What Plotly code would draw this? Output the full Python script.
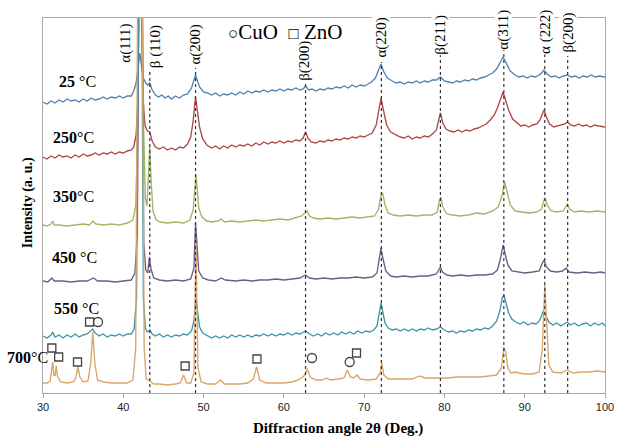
import plotly.graph_objects as go

# ---------------- data (2theta in degrees, intensity in a.u. with vertical offsets) ----------------
T25 = [(30.0,291),(30.5,289),(31.0,292),(31.5,290),(32.0,293),(32.5,291),(33.0,294),(33.5,292),(34.0,293),(34.5,291),
       (35.0,294),(35.5,292),(36.0,295),(36.5,293),(37.0,294),(37.5,296),(38.0,294),(38.5,296),(39.0,295),(39.5,297),
       (40.0,295),(40.5,297),(41.0,297),(41.3,302),(41.6,310),(41.85,325),(42.05,340),(42.25,328),(42.5,315),(42.8,310),
       (43.05,308),(43.3,310),(43.6,303),(44.0,298),(44.4,296),(44.8,298),(45.2,295),(45.6,297),(46.0,294),(46.5,297),
       (47.0,295),(47.5,298),(48.0,299),(48.5,305),(48.8,314),(49.0,318),(49.2,313),(49.5,306),(50.0,301),(50.5,300),
       (51.0,298),(51.5,300),(52.0,297),(52.5,299),(53.0,298),(53.5,300),(54.0,298),(54.5,301),(55.0,299),(55.5,302),
       (56.0,300),(56.5,302),(57.0,301),(57.5,303),(58.0,301),(58.5,303),(59.0,302),(59.5,304),(60.0,302),(60.5,304),
       (61.0,303),(61.5,305),(62.0,303),(62.4,304),(62.7,307),(63.1,303),(63.5,304),(64.0,302),(64.5,304),(65.0,303),
       (65.5,305),(66.0,304),(66.5,306),(67.0,305),(67.5,307),(68.0,305),(68.5,308),(69.0,306),(69.5,308),(70.0,307),
       (70.5,309),(70.9,311),(71.4,315),(71.8,322),(72.1,329),(72.4,322),(72.9,315),(73.5,312),(74.0,310),(74.5,311),
       (75.0,309),(75.5,311),(76.0,310),(76.5,312),(77.0,310),(77.5,312),(78.0,311),(78.5,313),(79.0,313),(79.5,316),
       (80.0,312),(80.5,311),(81.0,310),(81.5,312),(82.0,311),(82.5,313),(83.0,312),(83.5,314),(84.0,313),(84.5,315),
       (85.0,316),(85.5,318),(86.0,320),(86.5,324),(86.9,330),(87.3,336),(87.7,330),(88.2,322),(88.8,318),(89.3,316),
       (89.8,317),(90.3,315),(90.8,317),(91.3,316),(91.8,318),(92.1,320),(92.4,323),(92.8,319),(93.3,316),(93.8,317),
       (94.3,315),(94.8,317),(95.3,318),(95.8,316),(96.3,317),(96.8,315),(97.3,317),(97.8,316),(98.3,318),(98.8,316),
       (99.3,317),(100.0,316)]

T250 = [(30.0,236),(30.5,234),(31.0,237),(31.5,235),(32.0,238),(32.5,236),(33.0,237),(33.5,235),(34.0,238),(34.5,236),
        (35.0,239),(35.5,237),(36.0,238),(36.5,240),(37.0,238),(37.5,240),(38.0,239),(38.5,241),(39.0,239),(39.5,241),
        (40.0,240),(40.5,242),(41.0,243),(41.3,246),(41.6,258),(41.8,290),(42.0,420),(42.25,420),(42.45,295),(42.7,268),
        (43.0,262),(43.3,261),(43.6,252),(44.0,246),(44.5,244),(45.0,246),(45.5,243),(46.0,245),(46.5,243),(47.0,246),
        (47.5,245),(48.0,249),(48.4,256),(48.7,272),(49.0,296),(49.2,285),(49.5,266),(49.9,254),(50.4,248),(51.0,245),
        (51.5,247),(52.0,244),(52.5,247),(53.0,245),(53.5,248),(54.0,246),(54.5,248),(55.0,247),(55.5,249),(56.0,247),
        (56.5,250),(57.0,248),(57.5,251),(58.0,249),(58.5,251),(59.0,250),(59.5,252),(60.0,250),(60.5,252),(61.0,251),
        (61.5,253),(62.0,252),(62.4,255),(62.7,261),(63.0,255),(63.4,251),(64.0,250),(64.5,252),(65.0,251),(65.5,253),
        (66.0,252),(66.5,254),(67.0,253),(67.5,255),(68.0,254),(68.5,256),(69.0,255),(69.5,257),(70.0,256),(70.5,258),
        (71.0,260),(71.5,268),(71.9,285),(72.1,295),(72.4,283),(72.8,268),(73.3,261),(74.0,258),(74.5,256),(75.0,255),
        (75.5,257),(76.0,254),(76.5,256),(77.0,255),(77.5,257),(78.0,256),(78.5,259),(79.0,263),(79.3,272),(79.5,280),
        (79.8,270),(80.2,264),(80.7,262),(81.2,261),(81.7,263),(82.2,261),(82.7,263),(83.2,262),(83.7,264),(84.2,265),
        (84.7,267),(85.2,269),(85.7,273),(86.2,278),(86.6,285),(87.0,295),(87.3,301),(87.6,293),(88.0,283),(88.5,274),
        (89.0,270),(89.5,267),(90.0,268),(90.5,266),(91.0,268),(91.5,269),(91.9,273),(92.2,279),(92.4,283),(92.7,276),
        (93.1,269),(93.6,266),(94.1,267),(94.6,268),(95.0,269),(95.3,271),(95.7,268),(96.2,267),(96.7,269),(97.2,267),
        (97.7,268),(98.2,266),(98.7,268),(99.2,267),(100.0,266)]

T350 = [(30.0,168),(30.5,167),(31.0,169),(31.2,172),(31.4,168),(32.0,168),(33.0,167),(34.0,168),(35.0,169),(35.8,168),
        (36.2,172),(36.6,169),(37.5,168),(38.5,169),(39.5,168),(40.5,170),(41.2,173),(41.55,188),(41.8,260),(41.95,420),
        (42.35,420),(42.55,260),(42.75,195),(42.95,187),(43.15,215),(43.3,246),(43.45,215),(43.7,182),(44.1,173),(44.6,171),
        (45.5,170),(46.5,171),(47.5,170),(48.3,173),(48.7,183),(48.9,205),(49.05,218),(49.2,205),(49.4,185),(49.8,176),
        (50.4,172),(51.0,171),(51.8,172),(52.2,174),(52.6,171),(53.5,172),(54.5,171),(55.5,172),(56.5,173),(57.5,172),
        (58.5,173),(59.5,174),(60.5,173),(61.5,175),(62.2,177),(62.6,180),(62.9,182),(63.2,177),(63.7,175),(64.5,174),
        (65.5,175),(66.5,174),(67.5,175),(68.5,176),(69.5,175),(70.5,176),(71.3,177),(71.8,184),(72.1,198),(72.3,200),
        (72.6,188),(73.0,180),(73.6,178),(74.5,177),(75.5,178),(76.5,177),(77.5,178),(78.5,178),(79.1,181),(79.4,193),
        (79.55,196),(79.8,186),(80.3,179),(81.0,178),(82.0,177),(83.0,178),(84.0,180),(85.0,179),(86.0,182),(86.7,186),
        (87.2,198),(87.5,211),(87.8,200),(88.2,188),(88.8,182),(89.5,181),(90.5,180),(91.5,181),(92.1,184),(92.4,193),
        (92.55,195),(92.8,188),(93.3,182),(94.0,181),(94.8,182),(95.1,186),(95.3,189),(95.6,184),(96.2,181),(97.0,182),
        (98.0,181),(99.0,182),(100.0,181)]

T450 = [(30.0,112),(30.6,111),(31.1,115),(31.4,112),(32.5,112),(33.5,111),(34.5,112),(35.5,112),(36.3,115),(36.8,112),
        (38.0,112),(39.0,111),(40.0,112),(41.0,113),(41.45,120),(41.75,160),(41.95,420),(42.35,420),(42.55,150),(42.8,123),
        (43.05,120),(43.25,136),(43.45,124),(43.8,115),(44.5,113),(45.5,112),(46.5,113),(47.5,112),(48.4,114),(48.8,125),
        (49.0,170),(49.15,150),(49.4,122),(49.9,115),(50.6,113),(51.5,112),(52.2,115),(52.7,113),(54.0,112),(55.0,113),
        (56.0,112),(57.0,113),(58.0,113),(59.0,114),(60.0,113),(61.0,114),(62.0,115),(62.7,118),(63.2,115),(64.0,114),
        (65.0,115),(66.0,114),(67.0,115),(68.0,115),(69.0,116),(70.0,115),(71.0,116),(71.6,120),(71.95,140),(72.1,145),
        (72.3,136),(72.7,122),(73.3,117),(74.0,116),(75.0,117),(76.0,116),(77.0,117),(78.0,117),(79.0,119),(79.35,124),
        (79.5,126),(79.75,121),(80.3,118),(81.0,117),(82.0,118),(83.0,117),(84.0,118),(85.0,118),(86.0,119),(86.6,123),
        (87.0,135),(87.3,148),(87.55,140),(87.9,128),(88.4,122),(89.0,121),(90.0,120),(91.0,121),(91.8,122),(92.2,130),
        (92.4,133),(92.7,126),(93.2,122),(94.0,121),(94.7,122),(95.0,124),(95.15,125),(95.5,121),(96.5,120),(97.5,121),
        (98.5,120),(99.5,121),(100.0,120)]

T550 = [(30.0,57),(30.5,55),(31.0,58),(31.2,61),(31.5,56),(32.0,58),(32.5,55),(33.0,58),(33.5,56),(34.0,59),
        (34.5,56),(35.0,58),(35.5,59),(35.9,62),(36.2,64),(36.5,60),(37.0,57),(37.5,59),(38.0,56),(38.5,58),
        (39.0,57),(39.5,59),(40.0,57),(40.5,59),(41.0,59),(41.35,64),(41.65,95),(41.9,420),(42.3,420),(42.5,95),
        (42.75,65),(43.0,61),(43.3,63),(43.6,59),(44.0,57),(44.5,59),(45.0,56),(45.5,58),(46.0,56),(46.5,58),
        (47.0,57),(47.5,59),(48.0,58),(48.5,62),(48.8,72),(49.05,95),(49.25,80),(49.5,66),(49.9,60),(50.5,57),
        (51.0,55),(51.5,57),(52.0,55),(52.5,57),(53.0,55),(53.5,58),(54.0,56),(54.5,58),(55.0,56),(55.5,58),
        (56.0,56),(56.5,58),(57.0,57),(57.5,59),(58.0,57),(58.5,59),(59.0,57),(59.5,59),(60.0,58),(60.5,60),
        (61.0,58),(61.5,60),(62.0,59),(62.7,62),(63.2,59),(63.7,57),(64.2,59),(64.7,57),(65.2,60),(65.7,58),
        (66.2,60),(66.7,58),(67.2,61),(67.7,59),(68.2,61),(68.7,59),(69.2,62),(69.7,60),(70.2,62),(70.7,61),
        (71.2,63),(71.6,67),(71.9,80),(72.1,90),(72.3,82),(72.6,70),(73.0,65),(73.5,63),(74.0,64),(74.5,62),
        (75.0,64),(75.5,62),(76.0,64),(76.5,62),(77.0,64),(77.5,63),(78.0,65),(78.5,63),(79.0,64),(79.5,66),
        (80.0,63),(80.5,61),(81.0,62),(81.5,60),(82.0,62),(82.5,61),(83.0,63),(83.5,62),(84.0,64),(84.5,63),
        (85.0,65),(85.5,64),(86.0,67),(86.5,72),(86.9,82),(87.2,95),(87.4,98),(87.7,90),(88.0,80),(88.4,74),
        (88.9,71),(89.4,69),(89.9,71),(90.4,68),(90.9,70),(91.4,69),(91.8,72),(92.1,77),(92.3,82),(92.6,78),
        (93.0,71),(93.5,68),(94.0,70),(94.5,67),(95.0,69),(95.3,71),(95.7,68),(96.2,70),(96.7,67),(97.2,69),
        (97.7,70),(98.2,67),(98.7,70),(99.2,68),(99.7,70),(100.0,67)]

T700 = [(30.0,10),(30.5,10),(30.9,12),(31.1,28),(31.2,31),(31.35,18),(31.5,17),(31.65,27),(31.8,17),(32.2,11),
        (33.0,10),(33.8,11),(34.1,16),(34.35,26),(34.6,16),(35.0,11),(35.6,12),(35.95,30),(36.2,61),(36.45,30),
        (36.8,13),(37.5,11),(38.5,10),(39.5,10),(40.5,10),(41.2,13),(41.55,45),(41.8,420),(42.35,420),(42.6,45),
        (42.85,14),(43.3,12),(43.8,9),(44.5,9),(45.5,8),(46.5,9),(47.1,10),(47.5,18),(47.9,10),(48.4,10),
        (48.8,20),(49.05,150),(49.3,25),(49.7,11),(50.5,9),(51.5,9),(52.1,13),(52.6,9),(53.5,9),(54.5,9),
        (55.5,10),(56.2,14),(56.6,26),(57.0,13),(57.8,10),(59.0,10),(60.0,10),(61.0,11),(61.8,13),(62.2,15),
        (62.6,18),(62.9,24),(63.3,16),(64.0,13),(64.8,13),(65.3,15),(65.8,13),(66.8,14),(67.5,15),(67.9,23),
        (68.3,16),(68.7,15),(69.1,18),(69.5,14),(70.5,13),(71.5,14),(72.0,20),(72.2,30),(72.45,18),(73.0,14),
        (74.0,14),(75.0,14),(76.0,14),(76.9,17),(77.6,15),(78.5,15),(79.5,15),(80.5,15),(81.5,16),(82.5,16),
        (83.5,16),(84.5,16),(85.5,17),(86.5,18),(87.1,25),(87.4,46),(87.65,40),(87.9,25),(88.3,20),(88.8,21),
        (89.3,20),(90.0,19),(91.0,19),(91.8,21),(92.2,45),(92.5,108),(92.8,60),(93.0,28),(93.5,21),(94.5,20),
        (95.3,23),(96.0,20),(97.0,21),(98.0,21),(99.0,22),(100.0,21)]

TEMP_LABELS = ["<b>25</b> °C", "<b>250</b>°C", "<b>350</b>°C", "<b>450</b> °C", "<b>550</b> °C", "<b>700</b>°C"]
SERIES = [T25, T250, T350, T450, T550, T700]

# reference peak positions (dotted guide lines) and their labels
PEAK_POS = [43.3, 49.0, 62.7, 72.15, 79.5, 87.4, 92.5, 95.35]
PEAK_TEXT = ["α(111)", "β (110)", "α(200)", "β(200)", "α(220)", "β(211)", "α(311)", "α (222)", "β(200)"]

# phase markers on the 700 °C pattern
ZNO_X = [31.1, 31.95, 34.3, 35.8, 47.7, 56.65, 69.05]
ZNO_Y = [45, 36, 31, 71, 27, 34, 40]
CUO_X = [36.85, 63.5, 68.2]
CUO_Y = [71, 35, 31]

X_TICKS = [30, 40, 50, 60, 70, 80, 90, 100]

# ---------------- styling ----------------
COLORS = ["#5282b0", "#b04848", "#9db868", "#6a5f86", "#3f96a6", "#d9a56a"]
SERIF = "Liberation Serif, Times New Roman, serif"
SANS = "Liberation Sans, Arial, sans-serif"
L, R, T, B = 43, 614, 18, 393  # plot area in pixels


def px(xp):
    return (xp - L) / (R - L)


def py(yp):
    return (B - yp) / (B - T)


fig = go.Figure()
for pts, col in zip(SERIES, COLORS):
    fig.add_trace(go.Scatter(x=[p[0] for p in pts], y=[p[1] for p in pts], mode="lines",
                             line=dict(color=col, width=1.35), hoverinfo="skip", showlegend=False))

fig.add_trace(go.Scatter(x=ZNO_X, y=ZNO_Y, mode="markers", showlegend=False, hoverinfo="skip",
                         marker=dict(symbol="square-open", size=8, color="#444", line=dict(width=1.3))))
fig.add_trace(go.Scatter(x=CUO_X, y=CUO_Y, mode="markers", showlegend=False, hoverinfo="skip",
                         marker=dict(symbol="circle-open", size=9, color="#444", line=dict(width=1.3))))

line_tops = [323, 325, 309, 331, 338, 343, 339, 337]
for xpos, top in zip(PEAK_POS, line_tops):
    fig.add_shape(type="line", xref="x", yref="y", x0=xpos, x1=xpos, y0=0, y1=top,
                  line=dict(color="#333", width=1.2, dash="dot"), layer="above")

ann = []
# temperature labels
temp_pos = [(78, 82), (74, 137), (74, 196), (75, 257), (77, 308), (27, 357)]
for txt, (xp, yp) in zip(TEMP_LABELS, temp_pos):
    ann.append(dict(text=txt, x=px(xp), y=py(yp), xref="paper", yref="paper", showarrow=False,
                    xanchor="center", yanchor="middle", font=dict(family=SERIF, size=16, color="black")))

# peak labels (rotated)
lab_pos = [(127, 43), (157, 47), (198, 45), (308, 61), (386, 38), (446, 35), (510, 30), (553, 32), (576, 33)]
for i, (txt, (xp, yp)) in enumerate(zip(PEAK_TEXT, lab_pos)):
    ann.append(dict(text=txt, x=px(xp), y=py(yp), xref="paper", yref="paper", showarrow=False,
                    textangle=-90, xanchor="center", yanchor="middle",
                    bgcolor="white" if i >= 4 else None, borderpad=0,
                    font=dict(family=SERIF, size=15, color="black")))

# legend text
ann.append(dict(text='<span style="font-size:17px">○</span>CuO  <span style="font-size:17px">□</span> ZnO',
                x=px(289), y=py(32), xref="paper", yref="paper", showarrow=False,
                xanchor="center", yanchor="middle", font=dict(family=SERIF, size=21, color="black")))

# axis titles
ann.append(dict(text="<b>Diffraction angle 2θ (Deg.)</b>", x=px(343), y=py(428), xref="paper", yref="paper",
                showarrow=False, xanchor="center", yanchor="middle", font=dict(family=SERIF, size=15, color="black")))
ann.append(dict(text="<b>Intensity (a. u.)</b>", x=px(28), y=py(203), xref="paper", yref="paper",
                showarrow=False, textangle=-90, xanchor="center", yanchor="middle",
                font=dict(family=SERIF, size=14, color="black")))

fig.update_layout(width=625, height=438, margin=dict(l=L, r=625 - R, t=T, b=438 - B),
                  paper_bgcolor="white", plot_bgcolor="white", showlegend=False, annotations=ann)
fig.update_xaxes(range=[30, 100], tickvals=X_TICKS, ticktext=[str(v) for v in X_TICKS],
                 showline=True, mirror=True, linecolor="#a8a8a8", linewidth=1.2,
                 ticks="outside", ticklen=4, tickcolor="#a8a8a8", showgrid=False, zeroline=False,
                 tickfont=dict(family=SANS, size=11, color="#222"))
fig.update_yaxes(range=[0, 375], showticklabels=False, showline=True, mirror=True,
                 linecolor="#a8a8a8", linewidth=1.2, ticks="", showgrid=False, zeroline=False)

fig.write_html("out.html")
